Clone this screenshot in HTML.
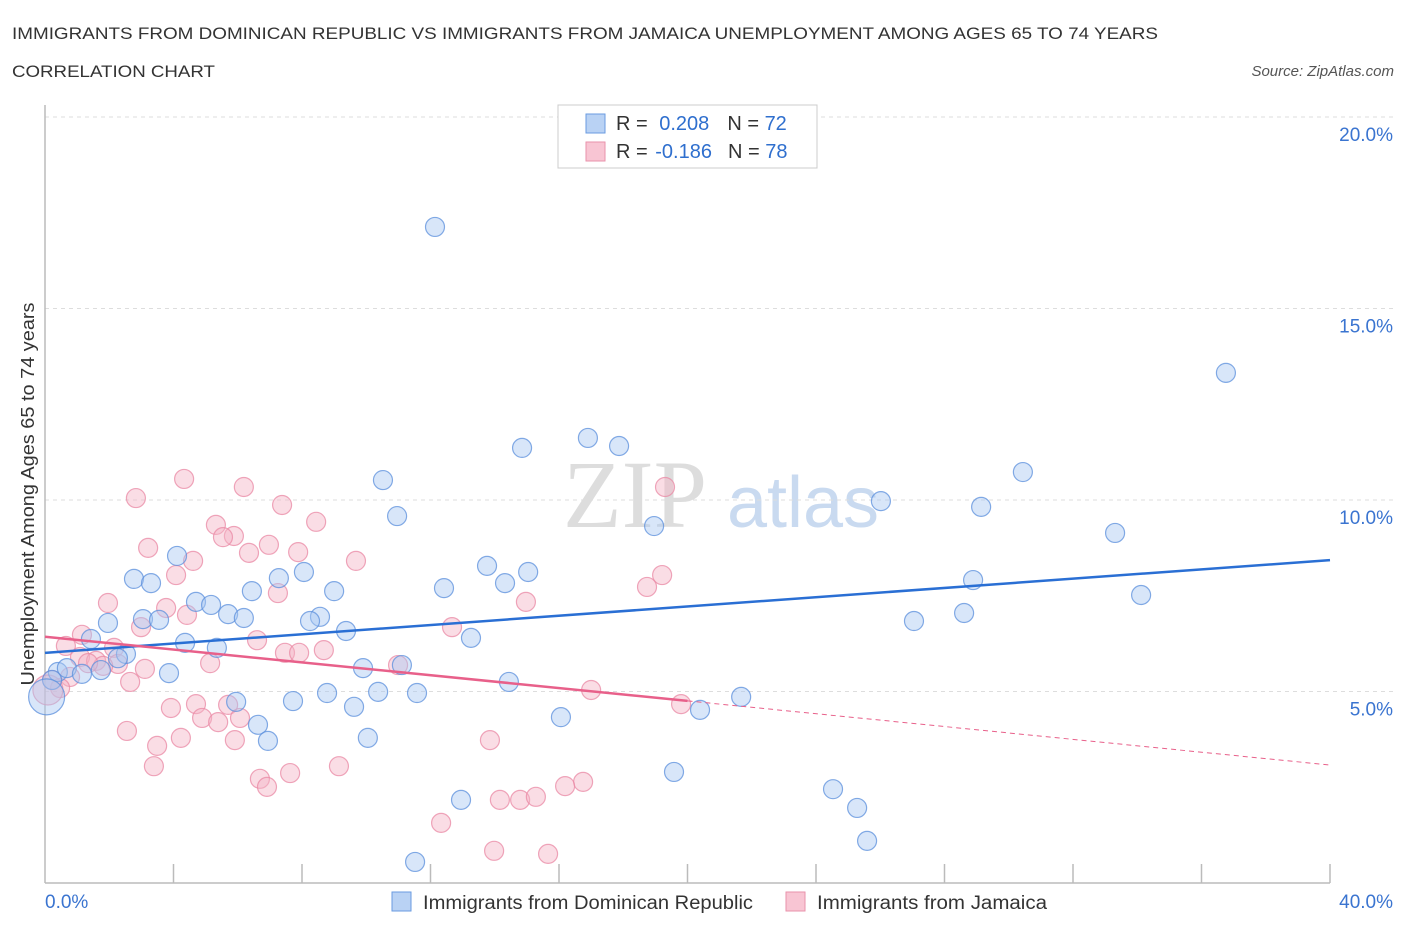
<!DOCTYPE html>
<html><head><meta charset="utf-8"><style>
body{margin:0;background:#fff;font-family:"Liberation Sans",sans-serif;}
svg{display:block}
</style></head><body>
<svg id="chart" width="1406" height="930" xmlns="http://www.w3.org/2000/svg">
<text x="12" y="39" font-size="17" fill="#333" textLength="1146" lengthAdjust="spacingAndGlyphs">IMMIGRANTS FROM DOMINICAN REPUBLIC VS IMMIGRANTS FROM JAMAICA UNEMPLOYMENT AMONG AGES 65 TO 74 YEARS</text>
<text x="12" y="77" font-size="17" fill="#333" textLength="203" lengthAdjust="spacingAndGlyphs">CORRELATION CHART</text>
<text x="1394" y="76" font-size="15" fill="#555" font-style="italic" text-anchor="end">Source: ZipAtlas.com</text>
<g>
<text x="635" y="527" font-size="96" font-family="Liberation Serif,serif" fill="#ddd" text-anchor="middle">ZIP</text>
<text x="803" y="527" font-size="72" fill="#c9daf0" text-anchor="middle">atlas</text>
</g>
<g id="grid"></g>
<g id="axes"></g>
<g id="pts"></g>
<g id="trends"></g>
<text transform="translate(34,494) rotate(-90)" font-size="18" fill="#333" text-anchor="middle" textLength="383" lengthAdjust="spacingAndGlyphs">Unemployment Among Ages 65 to 74 years</text>
<g>
<rect x="558" y="105" width="259" height="63" fill="#fff" stroke="#ccc"/>
<rect x="586" y="114" width="19" height="19" fill="#b9d2f4" stroke="#6a9be0"/>
<rect x="586" y="142" width="19" height="19" fill="#f8c5d3" stroke="#e992ab"/>
<text x="616" y="130" font-size="20" fill="#333">R = <tspan fill="#2f6fce" dx="6">0.208</tspan><tspan dx="18" fill="#333">N = </tspan><tspan fill="#2f6fce">72</tspan></text>
<text x="616" y="158" font-size="20" fill="#333">R = <tspan fill="#2f6fce" dx="2">-0.186</tspan><tspan dx="16" fill="#333">N = </tspan><tspan fill="#2f6fce">78</tspan></text>
</g>
<g>
<rect x="392" y="892" width="19" height="19" fill="#b9d2f4" stroke="#6a9be0"/>
<text x="423" y="909" font-size="19" fill="#333" textLength="330" lengthAdjust="spacingAndGlyphs">Immigrants from Dominican Republic</text>
<rect x="786" y="892" width="19" height="19" fill="#f8c5d3" stroke="#e992ab"/>
<text x="817" y="909" font-size="19" fill="#333" textLength="230" lengthAdjust="spacingAndGlyphs">Immigrants from Jamaica</text>
</g>
</svg>
<script>
const blueX=[12.14,36.76,16.90,17.87,14.85,10.52,30.44,26.02,29.14,10.96,18.96,33.31,4.11,13.76,15.04,2.77,3.30,7.28,8.06,14.32,12.42,6.44,9.00,28.89,34.12,4.70,5.17,5.70,6.19,3.05,3.55,8.56,8.25,27.05,28.61,1.96,9.37,13.26,1.43,4.36,5.35,2.52,2.27,0.40,0.68,1.74,3.86,1.15,9.90,11.11,14.44,0.22,8.78,10.37,11.58,21.67,5.95,7.72,9.62,20.39,16.06,6.63,6.94,10.05,19.58,24.53,12.95,25.28,25.59,11.52,0.05];
const blueY=[17.13,13.32,11.62,11.41,11.36,10.52,10.73,9.97,9.82,9.58,9.32,9.14,8.54,8.28,8.12,7.94,7.83,7.96,8.12,7.83,7.70,7.62,7.62,7.91,7.52,7.34,7.26,7.02,6.92,6.89,6.87,6.95,6.84,6.84,7.05,6.79,6.58,6.40,6.37,6.27,6.14,5.98,5.87,5.51,5.61,5.56,5.48,5.46,5.61,5.69,5.25,5.30,4.96,4.99,4.96,4.86,4.73,4.75,4.60,4.52,4.33,4.13,3.71,3.79,2.90,2.45,2.17,1.96,1.10,0.55,4.86];
const pinkX=[4.33,2.83,6.19,19.30,7.38,8.44,5.32,5.88,5.54,3.21,6.97,7.88,6.35,4.61,9.68,4.08,19.21,18.74,7.25,1.96,14.97,3.77,4.42,2.99,12.67,1.15,0.65,2.15,6.60,7.47,7.91,8.68,1.09,1.59,2.27,1.81,1.34,3.11,5.14,10.99,2.65,17.00,0.22,0.78,0.47,4.70,5.70,19.80,3.92,4.89,5.39,6.07,2.55,4.23,5.91,13.85,3.49,3.39,9.15,6.69,7.63,6.91,16.75,16.19,14.16,14.79,15.28,12.33,13.98,15.66,0.09];
const pinkY=[10.55,10.05,10.34,10.34,9.87,9.43,9.35,9.06,9.03,8.75,8.83,8.64,8.62,8.41,8.41,8.04,8.04,7.73,7.57,7.31,7.34,7.18,7.00,6.68,6.68,6.48,6.19,6.14,6.34,6.01,6.01,6.08,5.90,5.80,5.72,5.67,5.74,5.59,5.74,5.69,5.25,5.04,5.30,5.38,5.09,4.67,4.65,4.67,4.57,4.31,4.20,4.31,3.97,3.79,3.73,3.73,3.58,3.05,3.05,2.72,2.87,2.51,2.64,2.53,2.17,2.17,2.25,1.57,0.84,0.76,5.04];
const blueTrend=[6.01,8.43];
const pinkTrend=[6.43,3.08];
const pinkSolidEnd=20.0;
const yTicks=[5,10,15,20];
const yTickLabels=["5.0%","10.0%","15.0%","20.0%"];
const xTickCount=10;
const xMin=0,xMax=40,yMin=0,yMax=20;
const X0=45,X1=1330,Y0=883,Y1=117;
const sx=v=>X0+(v-xMin)/(xMax-xMin)*(X1-X0);
const sy=v=>Y0-(v-yMin)/(yMax-yMin)*(Y0-Y1);
const NS="http://www.w3.org/2000/svg";
function mk(tag,attrs,parent){const e=document.createElementNS(NS,tag);for(const k in attrs)e.setAttribute(k,attrs[k]);parent.appendChild(e);return e;}
const grid=document.getElementById('grid'),axes=document.getElementById('axes'),pts=document.getElementById('pts'),tr=document.getElementById('trends');
yTicks.forEach((t,i)=>{
 const l=mk('line',{x1:X0,x2:1393,y1:sy(t),y2:sy(t),stroke:'#ddd','stroke-dasharray':'4,4'},grid);
 
 
 const tx=mk('text',{x:1393,y:sy(t)+24,'font-size':19,fill:'#3a74d0','text-anchor':'end'},axes);
 tx.textContent=yTickLabels[i];
 
 
});
let a=mk('line',{x1:X0,x2:X0,y1:105,y2:Y0,stroke:'#bbb','stroke-width':1.5},axes);


a=mk('line',{x1:X0,x2:X1,y1:Y0,y2:Y0,stroke:'#bbb','stroke-width':1.5},axes);


for(let i=1;i<=xTickCount;i++){
 const v=xMin+i*(xMax-xMin)/xTickCount;
 const t=mk('line',{x1:sx(v),x2:sx(v),y1:Y0-19,y2:Y0,stroke:'#bbb','stroke-width':1.5},axes);
 
 
}
let xl=mk('text',{x:45,y:908,'font-size':19,fill:'#3a74d0'},axes);xl.textContent="0.0%";


xl=mk('text',{x:1393,y:908,'font-size':19,fill:'#3a74d0','text-anchor':'end'},axes);xl.textContent="40.0%";


function dots(xs,ys,fill,stroke,name){
 xs.forEach((x,i)=>{
  const big=i===xs.length-1;
  const c=mk('circle',{cx:sx(x),cy:sy(ys[i]),r:big?(name==='point-dominican'?18:15):9.5,fill:fill,'fill-opacity':0.45,stroke:stroke,'stroke-opacity':0.75,'stroke-width':1.2},pts);
  
  
 });
}
dots(pinkX,pinkY,'#f5b3c6','#e988a4','point-jamaica');
dots(blueX,blueY,'#a8c7f1','#5b8fdc','point-dominican');
let l=mk('line',{x1:sx(0),y1:sy(blueTrend[0]),x2:sx(40),y2:sy(blueTrend[1]),stroke:'#2a6fd4','stroke-width':2.5},tr);


const py=v=>pinkTrend[0]+(pinkTrend[1]-pinkTrend[0])*v/40;
l=mk('line',{x1:sx(0),y1:sy(pinkTrend[0]),x2:sx(pinkSolidEnd),y2:sy(py(pinkSolidEnd)),stroke:'#e8608a','stroke-width':2.5},tr);


l=mk('line',{x1:sx(pinkSolidEnd),y1:sy(py(pinkSolidEnd)),x2:sx(40),y2:sy(pinkTrend[1]),stroke:'#e8608a','stroke-width':1,'stroke-dasharray':'5,4'},tr);


</script>
</body></html>
